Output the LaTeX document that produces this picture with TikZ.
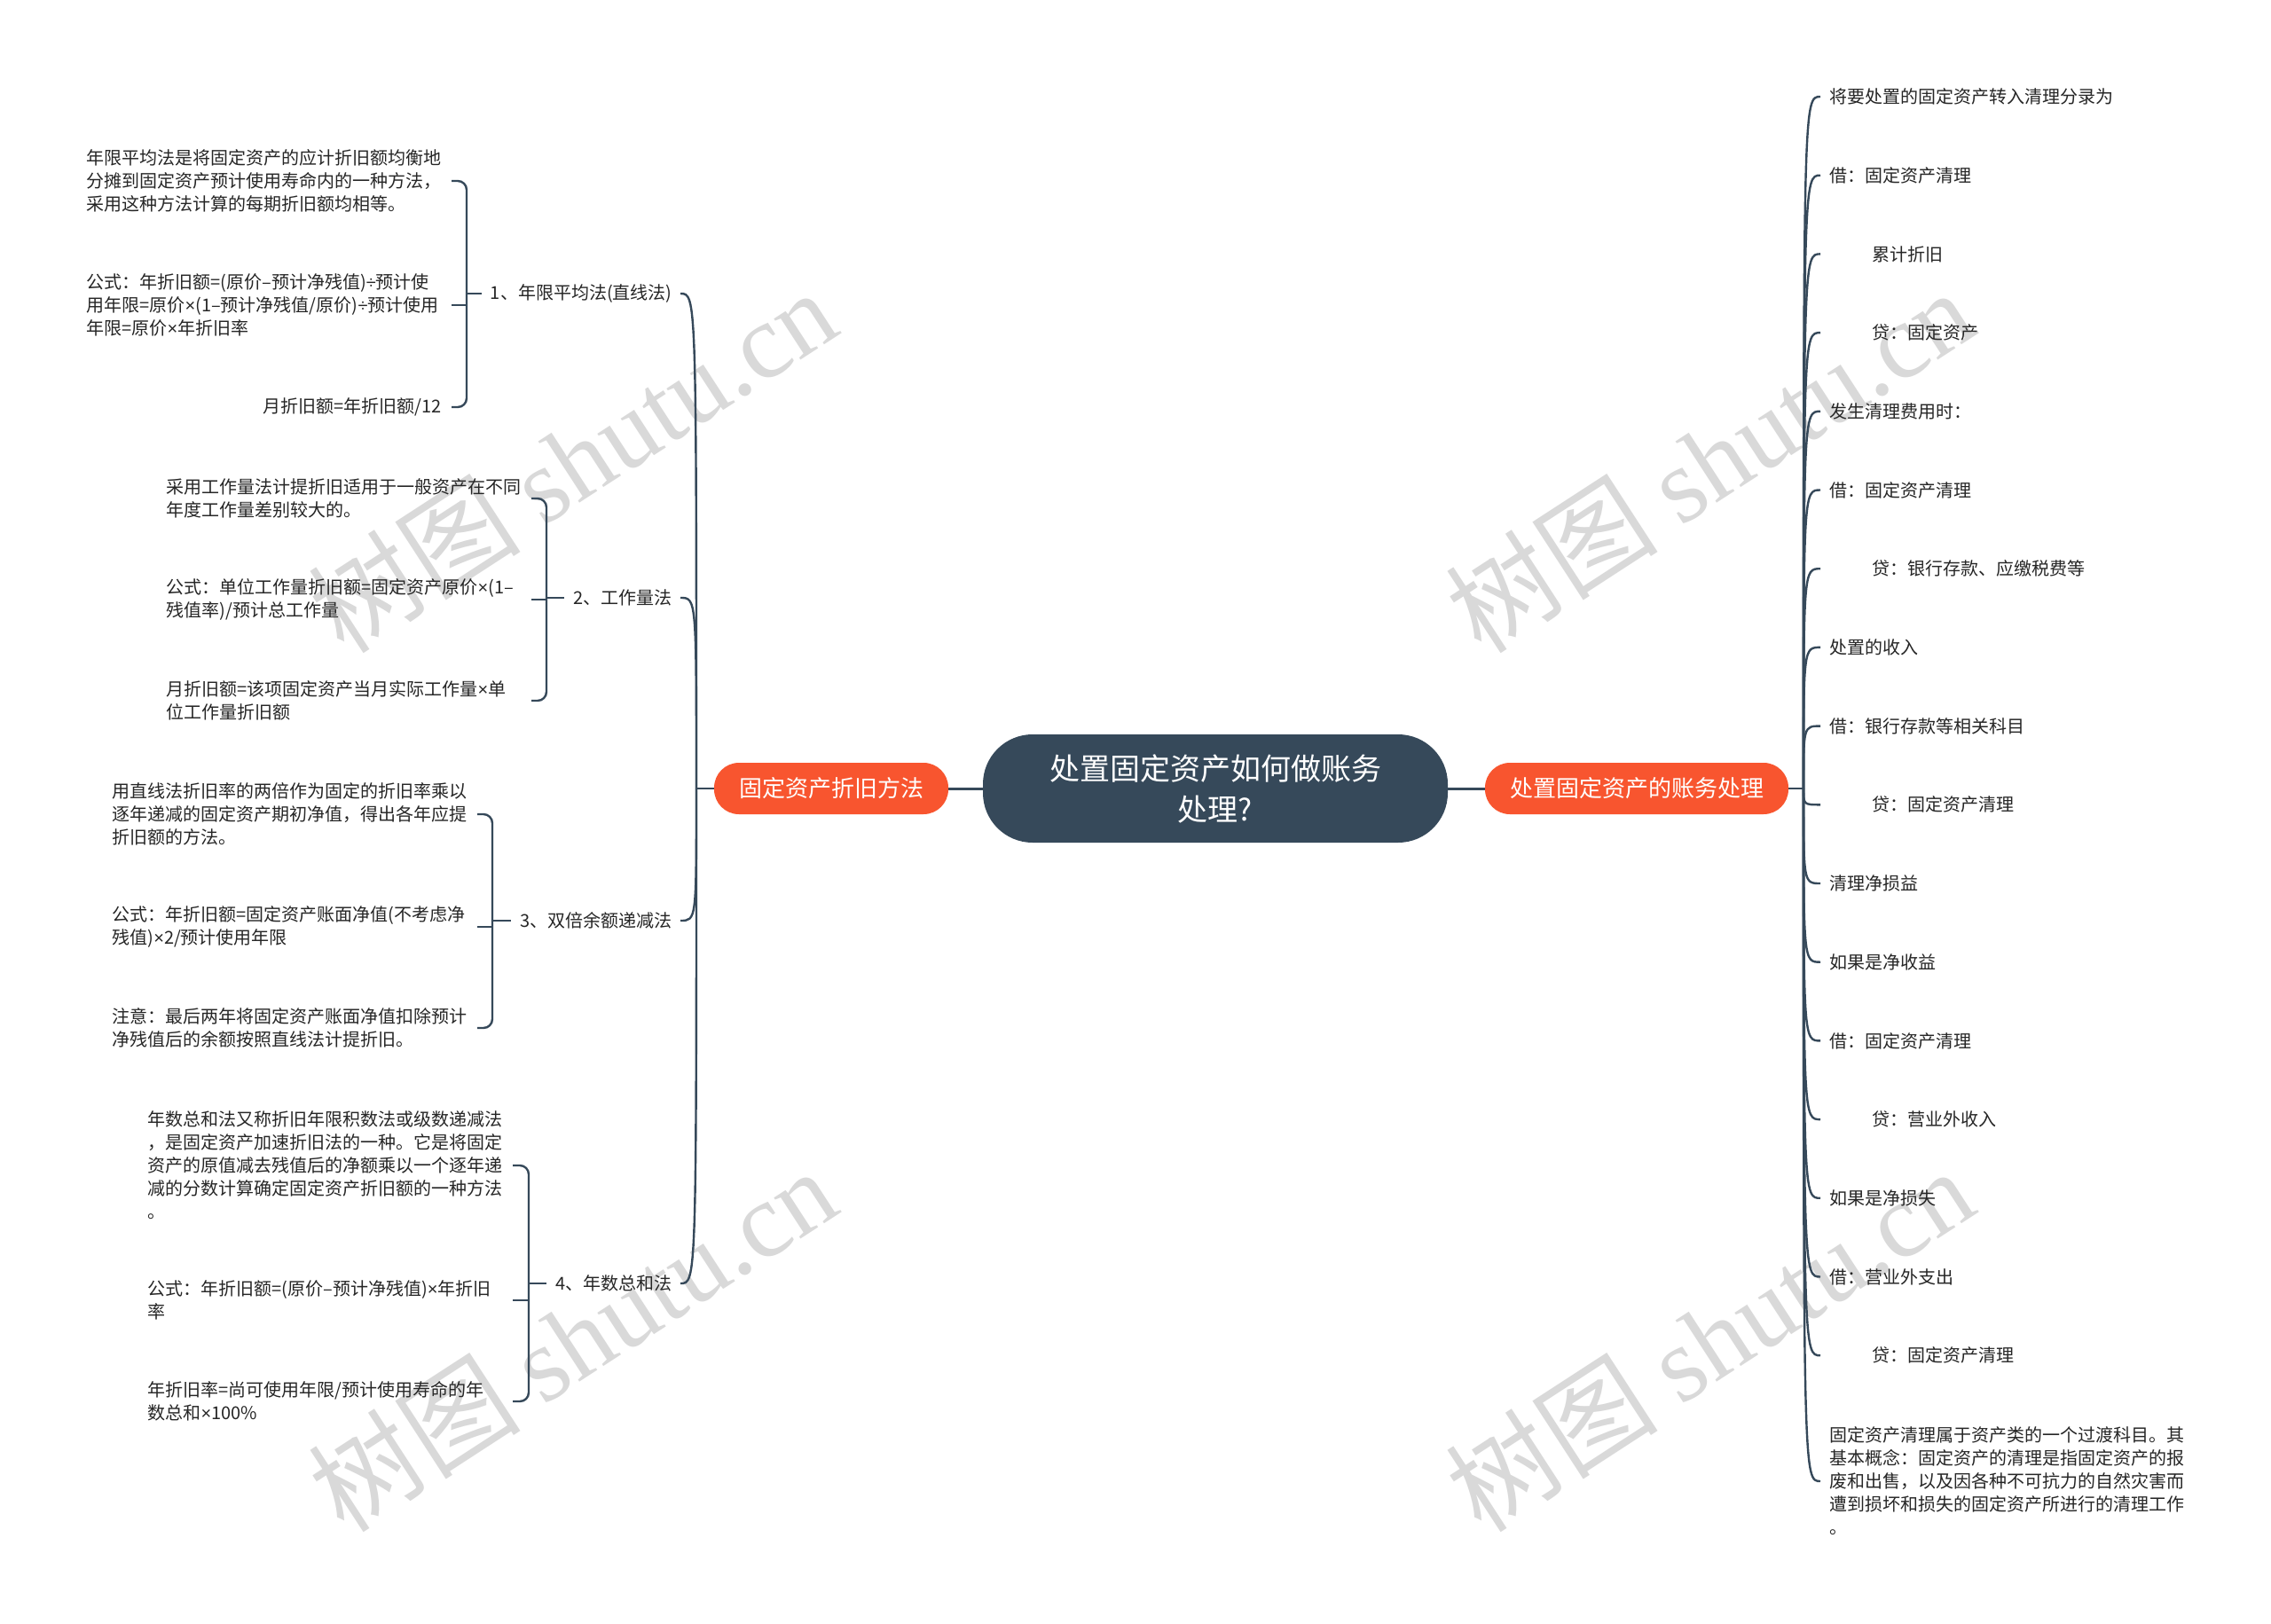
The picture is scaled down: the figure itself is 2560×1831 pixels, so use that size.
\documentclass[tikz,border=0pt]{standalone}
\usepackage{fontspec}
\setmainfont{Noto Sans CJK SC}
\newfontfamily\wmfont{Liberation Serif}
\newfontfamily\narrowsym{Liberation Sans}
\newcommand{\tms}{{\narrowsym ×}}
\newcommand{\dvs}{{\narrowsym ÷}}
\definecolor{slate}{HTML}{36495A}
\definecolor{tangerine}{HTML}{F8552F}

\begin{document}
\begin{tikzpicture}[x=0.5pt, y=-0.5pt,
    leaf/.style={inner sep=0pt, text=black!85, font=\fontsize{10}{13}\selectfont, align=left},
    wide/.style={leaf, text width=200pt},
    topic/.style={fill=tangerine, text=white, rounded corners=14pt, minimum height=29pt, inner sep=0pt, font=\fontsize{13}{15}\selectfont},
    root/.style={fill=slate, text=white, rounded corners=28pt, minimum width=262pt, minimum height=61pt, align=center, font=\fontsize{17}{23}\selectfont},
    link/.style={draw=slate, line width=1.2pt},
    bracketline/.style={link, rounded corners=5pt},
    wmark/.style={rotate=33, text=black!15, font=\fontsize{60}{60}\selectfont}]
    % canvas
    \fill[white] (0,0) rectangle (2560,1831);
    \useasboundingbox (0,0) rectangle (2560,1831);
    % watermarks
    \foreach \wx/\wy in {645/519, 1927/519, 645/1510, 1927/1510}
        \node[wmark] at (\wx,\wy) {树图 {\wmfont shutu.cn}};
    % root and main topics
    \node[root] (root) at (1370,889) {处置固定资产如何做账务\\处理?};
    \node[topic, minimum width=132pt] (dep) at (937,889) {固定资产折旧方法};
    \node[topic, minimum width=171pt] (disp) at (1845,889) {处置固定资产的账务处理};
    \draw[link, line width=1.5pt] (root) -- (dep);
    \draw[link, line width=1.5pt] (root) -- (disp);
    \coordinate (jl) at (785,889);
    \coordinate (jr) at (2033,889);
    \draw[link] (dep.west) -- (jl);
    \draw[link] (disp.east) -- (jr);
    % depreciation methods
    \foreach \txt/\y [count=\i] in {1、年限平均法(直线法)/331, 2、工作量法/674, 3、双倍余额递减法/1038, 4、年数总和法/1447} {
        \node[leaf, anchor=east] (m\i) at (758,\y) {\txt};
        \draw[link] (jl) .. controls (jl |- m\i.east) .. ([xshift=4.5pt]m\i.east);
    }
    % method details
    \node[wide, anchor=east] (top1) at (498,204) {年限平均法是将固定资产的应计折旧额均衡地\\分摊到固定资产预计使用寿命内的一种方法，\\采用这种方法计算的每期折旧额均相等。};
    \node[wide, anchor=east] (mid1) at (498,344) {公式：年折旧额=(原价–预计净残值)\dvs 预计使\\\mbox{用年限=原价\tms(1–预计净残值/原价)\dvs 预计使用}\\年限=原价\tms 年折旧率};
    \node[leaf, anchor=east] (bot1) at (498,459) {月折旧额=年折旧额/12};
    \node[wide, anchor=east] (top2) at (588,562) {采用工作量法计提折旧适用于一般资产在不同\\年度工作量差别较大的。};
    \node[wide, anchor=east] (mid2) at (588,676) {\mbox{公式：单位工作量折旧额=固定资产原价\tms(1–}\\残值率)/预计总工作量};
    \node[wide, anchor=east] (bot2) at (588,790) {月折旧额=该项固定资产当月实际工作量\tms 单\\位工作量折旧额};
    \node[wide, anchor=east] (top3) at (527,918) {用直线法折旧率的两倍作为固定的折旧率乘以\\逐年递减的固定资产期初净值，得出各年应提\\折旧额的方法。};
    \node[wide, anchor=east] (mid3) at (527,1045) {公式：年折旧额=固定资产账面净值(不考虑净\\残值)\tms 2/预计使用年限};
    \node[wide, anchor=east] (bot3) at (527,1159) {注意：最后两年将固定资产账面净值扣除预计\\净残值后的余额按照直线法计提折旧。};
    \node[wide, anchor=east] (top4) at (567,1314) {年数总和法又称折旧年限积数法或级数递减法\\，是固定资产加速折旧法的一种。它是将固定\\资产的原值减去残值后的净额乘以一个逐年递\\减的分数计算确定固定资产折旧额的一种方法\\。};
    \node[wide, anchor=east] (mid4) at (567,1466) {公式：年折旧额=(原价–预计净残值)\tms 年折旧\\率};
    \node[wide, anchor=east] (bot4) at (567,1580) {年折旧率=尚可使用年限/预计使用寿命的年\\数总和\tms 100\%};
    % brackets
    \foreach \g/\bx in {1/526, 2/616, 3/555, 4/596} {
        \coordinate (spine\g) at (\bx,0);
        \draw[bracketline] ([xshift=5.5pt]top\g.east) -| (spine\g |- m\g.west) |- ([xshift=5.5pt]bot\g.east);
        \draw[link] ([xshift=5.5pt]mid\g.east) -- (spine\g |- mid\g.east);
        \draw[link] (spine\g |- m\g.west) -- ([xshift=-5pt]m\g.west);
    }
    % disposal entries
    \foreach \txt [count=\i from 0] in {将要处置的固定资产转入清理分录为, 借：固定资产清理, \hspace*{24pt}累计折旧, \hspace*{24pt}贷：固定资产, 发生清理费用时：, 借：固定资产清理, \hspace*{24pt}贷：银行存款、应缴税费等, 处置的收入, 借：银行存款等相关科目, \hspace*{24pt}贷：固定资产清理, 清理净损益, 如果是净收益, 借：固定资产清理, \hspace*{24pt}贷：营业外收入, 如果是净损失, 借：营业外支出, \hspace*{24pt}贷：固定资产清理} {
        \node[leaf, anchor=west] (r\i) at (2062,{109+88.7*\i}) {\txt};
        \draw[link] (jr) .. controls (jr |- r\i.west) .. ([xshift=-5pt]r\i.west);
    }
    \node[wide, anchor=west] (note) at (2062,1670) {固定资产清理属于资产类的一个过渡科目。其\\基本概念：固定资产的清理是指固定资产的报\\废和出售，以及因各种不可抗力的自然灾害而\\遭到损坏和损失的固定资产所进行的清理工作\\。};
    \draw[link] (jr) .. controls (jr |- note.west) .. ([xshift=-5pt]note.west);
\end{tikzpicture}
\end{document}
